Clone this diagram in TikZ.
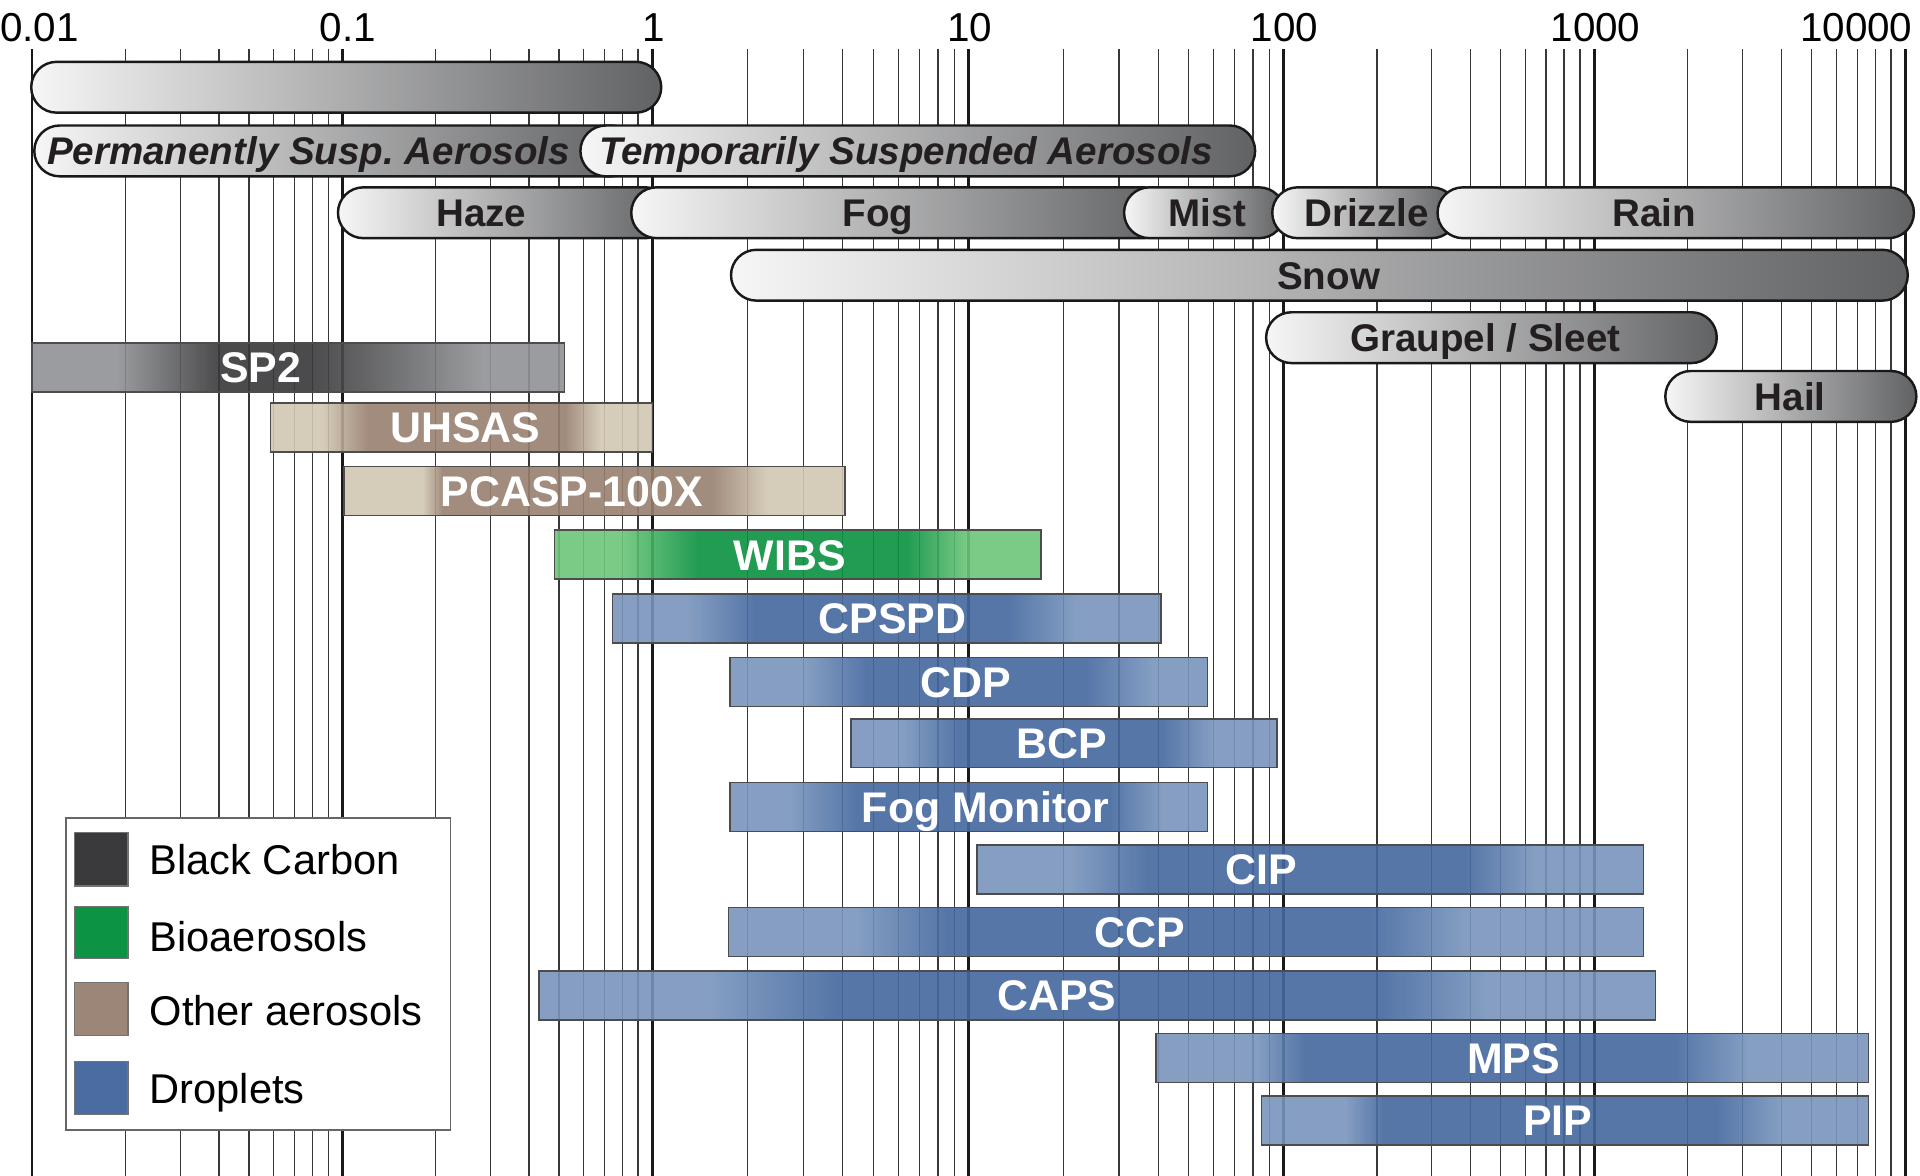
\documentclass[tikz,border=0pt]{standalone}
\usepackage{fontspec}
\setmainfont{Liberation Sans}
\frenchspacing
\definecolor{pillL}{HTML}{F6F6F6}
\definecolor{pillD}{HTML}{616264}
\definecolor{txtdark}{HTML}{231F20}
\definecolor{grayL}{HTML}{909295}
\definecolor{grayD}{HTML}{38383A}
\definecolor{tanL}{HTML}{D1C7B3}
\definecolor{tanD}{HTML}{98806F}
\definecolor{greenL}{HTML}{6DC679}
\definecolor{greenD}{HTML}{0A9141}
\definecolor{blueL}{HTML}{7894BC}
\definecolor{blueD}{HTML}{44689F}
\definecolor{legBC}{HTML}{3A3A3C}
\definecolor{legBio}{HTML}{0C9444}
\definecolor{legOth}{HTML}{9C8677}
\definecolor{legDrop}{HTML}{4A6CA3}
\tikzset{
  majorline/.style={draw=black!90, line width=2.2pt},
  minorline/.style={draw=black!78, line width=1pt},
  pillst/.style={left color=pillL, right color=pillD, draw=black!90, line width=2pt, rounded corners=20.7pt},
  barline/.style={draw=black!70, line width=1.2pt},
  axlabel/.style={font=\fontsize{33}{38}\selectfont, text=black, inner sep=0pt, text height=23.6pt, text depth=0pt},
  plabel/.style={font=\fontsize{31.5}{36}\selectfont\bfseries, text=txtdark, inner sep=0pt, text height=22.6pt, text depth=0pt},
  pilabel/.style={font=\fontsize{31.5}{36}\selectfont\bfseries\itshape, text=txtdark, inner sep=0pt, text height=22.6pt, text depth=0pt},
  ilabel/.style={font=\fontsize{35}{40}\selectfont\bfseries, text=white, inner sep=0pt, text height=25pt, text depth=0pt},
  leglabel/.style={font=\fontsize{34}{40}\selectfont, text=black, inner sep=0pt, text height=24.4pt, text depth=0pt, anchor=west},
  legswatch/.style={draw=black!55, line width=1pt}
}
% instrument bar: #1 x1, #2 x2, #3 ytop, #4 a, #5 b, #6 c, #7 d, #8 colour prefix
\newcommand\ibar[8]{%
  \begin{scope}[transparency group, opacity=0.9]
    \fill[#8L] (#1,#3) rectangle (#2,#3+40);
    \shade[left color=#8L, right color=#8D] (#4,#3) rectangle (#5+0.6,#3+40);
    \fill[#8D] (#5,#3) rectangle (#6,#3+40);
    \shade[left color=#8D, right color=#8L] (#6-0.6,#3) rectangle (#7,#3+40);
  \end{scope}
  \draw[barline] (#1,#3) rectangle (#2,#3+40);
}
\newcommand\pillshape[3]{\draw[pillst] (#1,#3) rectangle (#2,#3+41.5);}
\begin{document}
\begin{tikzpicture}[x=1pt, y={(0pt,-1pt)}]
\useasboundingbox (0,0) rectangle (1568,960);
\fill[white] (0,0) rectangle (1568,960);
% grid
\foreach \xa/\xb in {26.2/279.6, 279.6/532.6, 532.6/791.1, 791.1/1048.2, 1048.2/1301.9, 1301.9/1556}{
  \foreach \m in {2,...,9}{
    \draw[minorline] ({\xa+(\xb-\xa)*ln(\m)/ln(10)},40) -- ({\xa+(\xb-\xa)*ln(\m)/ln(10)},960);
  }
}
\foreach \x in {26.2, 279.6, 532.6, 791.1, 1048.2, 1301.9, 1556}{
  \draw[majorline] (\x,40) -- (\x,960);
}
% axis labels
\node[axlabel, anchor=west] (t0) at (0,22) {0.01};
\node[axlabel] (t1) at (284,22) {0.1};
\node[axlabel] (t2) at (534,22) {1};
\node[axlabel] (t3) at (792,22) {10};
\node[axlabel] (t4) at (1049,22) {100};
\node[axlabel] (t5) at (1303,22) {1000};
\node[axlabel, anchor=east] (t6) at (1562,22) {10000};
% pills
\pillshape{25.5}{540}{50.5}
\pillshape{28}{520}{102.5}
\pillshape{474}{1025}{102.5}
\pillshape{276}{548}{153}
\pillshape{515.5}{955}{153}
\pillshape{918}{1049}{153}
\pillshape{1039}{1190}{153}
\pillshape{1174}{1563}{153}
\pillshape{597}{1558}{204}
\pillshape{1034}{1402}{255}
\pillshape{1360}{1565}{303}
\node[pilabel] (perm) at (252,123) {Permanently Susp. Aerosols};
\node[pilabel] (temp) at (740,123) {Temporarily Suspended Aerosols};
\node[plabel] (haze) at (393,174) {Haze};
\node[plabel] (fog) at (717,174) {Fog};
\node[plabel] (mist) at (986,174) {Mist};
\node[plabel] (drizzle) at (1116,174) {Drizzle};
\node[plabel] (rain) at (1351,174) {Rain};
\node[plabel] (snow) at (1085,225) {Snow};
\node[plabel] (graupel) at (1213,276) {Graupel / Sleet};
\node[plabel] (hail) at (1462,324) {Hail};
% instrument bars
\ibar{26.2}{461}{280}{95}{179}{253}{395}{gray}
\ibar{221}{533}{329}{263}{300}{462}{490}{tan}
\ibar{281}{690}{381}{345}{361}{582}{626}{tan}
\ibar{453}{850}{433}{507}{570}{741}{791}{green}
\ibar{500}{948}{485}{562}{616}{824}{878}{blue}
\ibar{596}{986}{537}{657}{707}{887}{941}{blue}
\ibar{695}{1043}{587}{737}{782}{949}{991}{blue}
\ibar{596}{986}{639}{645}{699}{907}{949}{blue}
\ibar{798}{1342}{690}{875}{937}{1197}{1253}{blue}
\ibar{595}{1342}{741}{700}{773}{1120}{1197}{blue}
\ibar{440}{1352}{793}{580}{682}{1129}{1214}{blue}
\ibar{944}{1526}{844}{1026}{1065}{1368}{1428}{blue}
\ibar{1030}{1526}{895}{1099}{1129}{1402}{1454}{blue}
\node[ilabel] (sp2) at (213,300) {SP2};
\node[ilabel] (uhsas) at (380,349) {UHSAS};
\node[ilabel] (pcasp) at (467,401) {PCASP-100X};
\node[ilabel] (wibs) at (645,453) {WIBS};
\node[ilabel] (cpspd) at (729,505) {CPSPD};
\node[ilabel] (cdp) at (789,557) {CDP};
\node[ilabel] (bcp) at (867,607) {BCP};
\node[ilabel] (fogmon) at (805,659) {Fog Monitor};
\node[ilabel] (cip) at (1030,710) {CIP};
\node[ilabel] (ccp) at (931,761) {CCP};
\node[ilabel] (caps) at (863,813) {CAPS};
\node[ilabel] (mps) at (1236,864) {MPS};
\node[ilabel] (pip) at (1272,915) {PIP};
% legend
\draw[fill=white, draw=black!60, line width=1.4pt] (54,668) rectangle (368,923);
\fill[legBC] (61,680) rectangle (104.5,723.5);
\fill[legBio] (61,740) rectangle (104.5,783);
\fill[legOth] (61,802.5) rectangle (104.5,845.5);
\fill[legDrop] (61,867) rectangle (104.5,910);
\draw[legswatch] (61,680) rectangle (104.5,723.5);
\draw[legswatch] (61,740) rectangle (104.5,783);
\draw[legswatch] (61,802.5) rectangle (104.5,845.5);
\draw[legswatch] (61,867) rectangle (104.5,910);
\node[leglabel] (lbc) at (122,702) {Black Carbon};
\node[leglabel] (lbio) at (122,765) {Bioaerosols};
\node[leglabel] (loth) at (122,825) {Other aerosols};
\node[leglabel] (ldrop) at (122,889) {Droplets};
\end{tikzpicture}
\end{document}
